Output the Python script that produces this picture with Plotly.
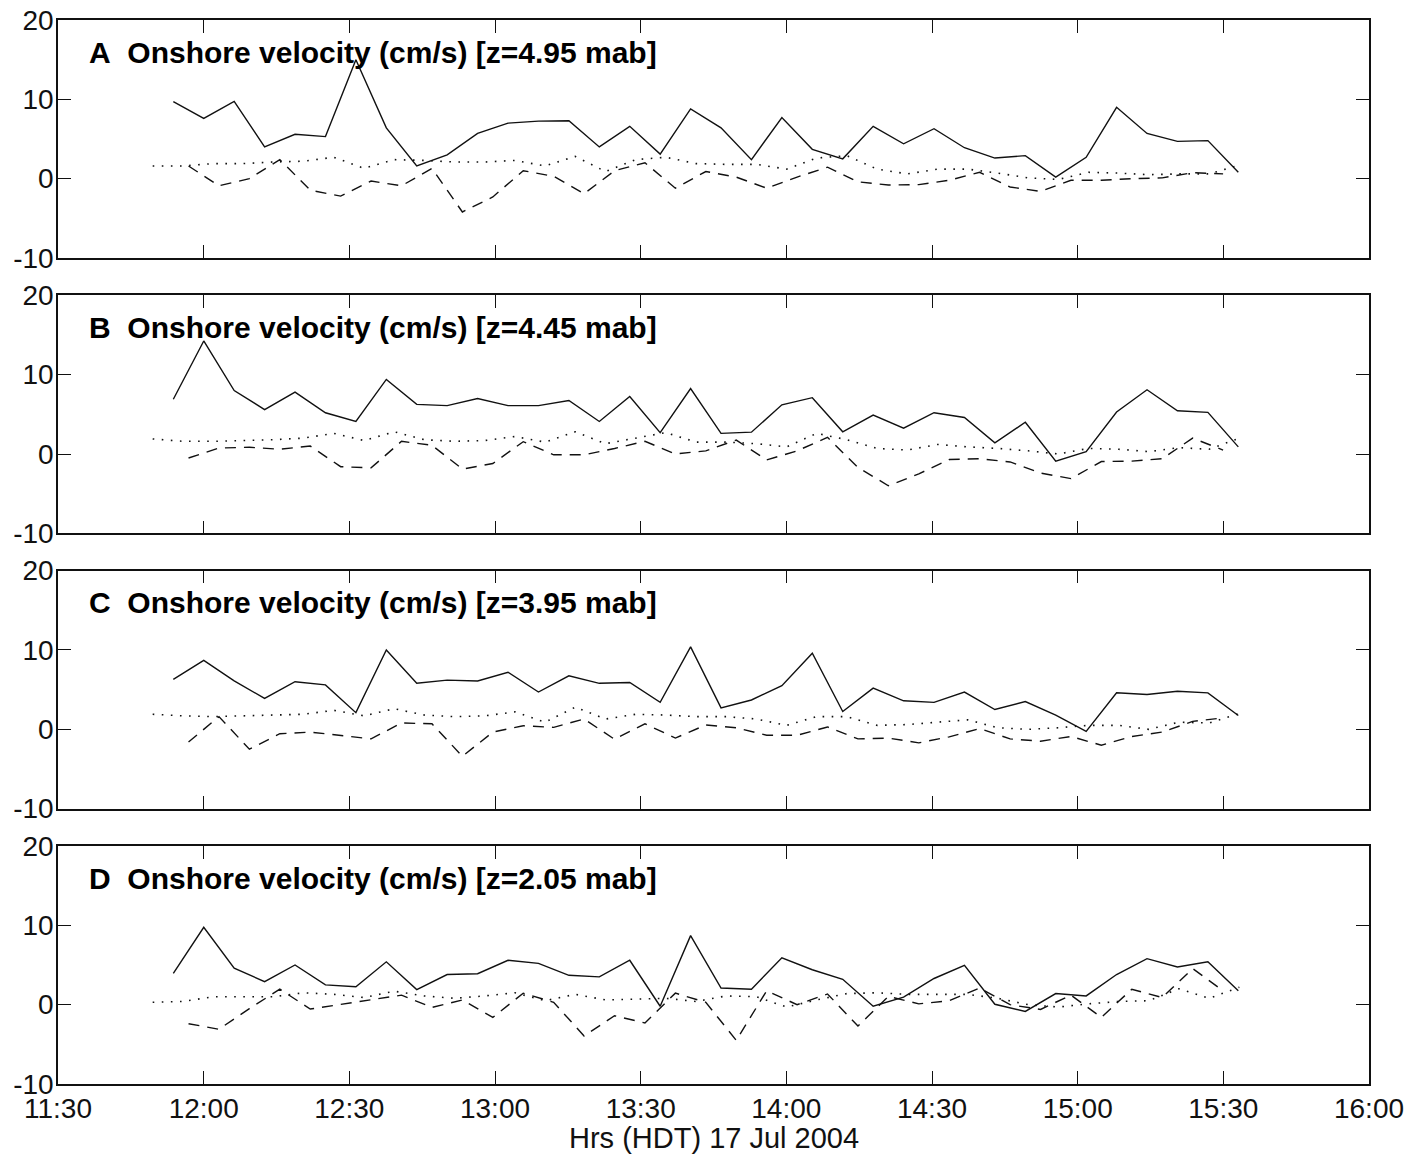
import pandas as pd
import plotly.graph_objects as go

# Sampling times (HDT, 17 Jul 2004)
solid_t = pd.date_range("2004-07-17 11:53:45", periods=36, freq="376s")
dashed_t = pd.date_range("2004-07-17 11:56:53", periods=35, freq="376s")
dotted_t = pd.date_range("2004-07-17 11:49:30", periods=37, freq="373s")

# Onshore velocity (cm/s), panel A: z = 4.95 mab
a_solid = [9.7, 7.6, 9.75, 4.0, 5.6, 5.3, 15.0, 6.4, 1.6, 3.0, 5.7, 7.0, 7.25, 7.3, 4.0, 6.6, 3.1, 8.8,
           6.4, 2.4, 7.7, 3.7, 2.5, 6.6, 4.4, 6.3, 3.9, 2.6, 2.9, 0.2, 2.7, 9.0, 5.7, 4.7, 4.8, 0.8]
a_dashed = [1.6, -0.9, 0.0, 2.4, -1.45, -2.2, -0.3, -0.9, 1.3, -4.2, -2.3, 1.0, 0.3, -1.9, 1.0, 2.0, -1.2, 0.9,
            0.2, -1.2, 0.2, 1.45, -0.4, -0.8, -0.75, -0.2, 0.8, -1.05, -1.6, -0.2, -0.2, 0.0, 0.1, 0.75, 0.6]
a_dotted = [1.6, 1.6, 1.9, 1.9, 2.1, 2.2, 2.7, 1.3, 2.4, 2.3, 2.1, 2.1, 2.3, 1.6, 2.8, 0.9, 2.4, 2.7, 1.9,
            1.8, 1.8, 1.2, 2.6, 2.9, 1.2, 0.6, 1.2, 1.2, 0.7, 0.1, -0.1, 0.8, 0.7, 0.5, 0.6, 0.6, 1.7]

# Panel B: z = 4.45 mab
b_solid = [6.9, 14.25, 8.0, 5.6, 7.8, 5.2, 4.1, 9.4, 6.25, 6.1, 7.0, 6.1, 6.1, 6.75, 4.1, 7.25, 2.7, 8.25,
           2.6, 2.75, 6.2, 7.1, 2.8, 4.9, 3.25, 5.2, 4.6, 1.4, 4.0, -0.9, 0.3, 5.3, 8.1, 5.45, 5.25, 0.9]
b_dashed = [-0.5, 0.75, 0.85, 0.6, 1.0, -1.6, -1.75, 1.6, 1.1, -1.9, -1.2, 1.55, -0.1, -0.1, 0.7, 1.6, 0.0, 0.4,
            1.75, -0.75, 0.4, 2.1, -1.7, -4.0, -2.5, -0.7, -0.6, -1.0, -2.4, -3.1, -0.95, -0.9, -0.6, 2.0, 0.5]
b_dotted = [1.9, 1.6, 1.6, 1.7, 1.8, 2.0, 2.6, 1.7, 2.8, 1.8, 1.6, 1.7, 2.2, 1.5, 2.8, 1.3, 2.0, 2.7, 1.5,
            1.5, 1.3, 0.9, 2.6, 1.8, 0.7, 0.5, 1.2, 0.9, 0.7, 0.4, 0.0, 0.7, 0.6, 0.3, 0.8, 0.6, 2.0]

# Panel C: z = 3.95 mab
c_solid = [6.3, 8.7, 6.1, 3.9, 6.0, 5.6, 2.1, 10.0, 5.8, 6.2, 6.1, 7.2, 4.7, 6.75, 5.8, 5.9, 3.4, 10.4,
           2.7, 3.7, 5.5, 9.6, 2.25, 5.2, 3.6, 3.4, 4.7, 2.5, 3.5, 1.8, -0.25, 4.6, 4.4, 4.8, 4.6, 1.75]
c_dashed = [-1.6, 1.6, -2.5, -0.55, -0.35, -0.75, -1.2, 0.8, 0.7, -3.4, -0.35, 0.45, 0.25, 1.3, -1.25, 0.7, -1.1, 0.55,
            0.2, -0.75, -0.75, 0.3, -1.2, -1.1, -1.7, -0.95, 0.1, -1.2, -1.5, -0.9, -2.0, -0.9, -0.35, 1.0, 1.45]
c_dotted = [1.9, 1.7, 1.6, 1.7, 1.8, 1.9, 2.4, 1.7, 2.6, 1.8, 1.6, 1.7, 2.2, 0.9, 2.8, 1.3, 1.9, 1.8, 1.6,
            1.6, 1.3, 0.5, 1.6, 1.6, 0.5, 0.6, 0.9, 1.2, 0.2, 0.0, 0.2, 0.5, 0.5, 0.0, 0.9, 0.8, 2.0]

# Panel D: z = 2.05 mab
d_solid = [3.95, 9.75, 4.6, 2.9, 5.0, 2.5, 2.25, 5.4, 1.9, 3.8, 3.9, 5.6, 5.2, 3.7, 3.5, 5.6, -0.2, 8.7,
           2.1, 1.95, 5.9, 4.4, 3.2, -0.2, 0.95, 3.3, 4.95, 0.05, -0.85, 1.4, 1.1, 3.8, 5.8, 4.75, 5.4, 1.75]
d_dashed = [-2.4, -3.1, -0.5, 1.95, -0.55, 0.05, 0.6, 1.2, -0.35, 0.6, -1.6, 1.45, 0.3, -3.95, -1.4, -2.3, 1.45, 0.3,
            -4.5, 1.75, 0.0, 1.35, -2.7, 1.05, 0.1, 0.5, 2.1, 0.0, -0.6, 1.2, -1.6, 1.95, 0.9, 4.55, 1.75]
d_dotted = [0.3, 0.4, 1.0, 1.0, 1.0, 1.5, 1.3, 0.9, 1.7, 1.1, 0.8, 1.1, 1.5, 0.5, 1.3, 0.6, 0.7, 0.8, 0.4,
            1.1, 1.0, -0.3, 0.6, 1.4, 1.5, 1.3, 1.3, 1.3, 0.8, 0.0, -0.3, 0.1, 0.4, 0.5, 2.0, 0.8, 2.2]

panel_letters = ["A", "B", "C", "D"]
panel_heights = ["4.95", "4.45", "3.95", "2.05"]
panel_data = [
    (a_solid, a_dashed, a_dotted),
    (b_solid, b_dashed, b_dotted),
    (c_solid, c_dashed, c_dotted),
    (d_solid, d_dashed, d_dotted),
]

x_ticks = pd.date_range("2004-07-17 11:30", "2004-07-17 16:00", freq="30min")
x_range = ["2004-07-17 11:30", "2004-07-17 16:00"]
y_ticks = [-10, 0, 10, 20]

FONT = "Liberation Sans, Arial, Helvetica, sans-serif"
INK = "#111111"

W, H = 1424, 1156
M_L, M_R, M_T, M_B = 58, 55, 20, 72
plot_h = H - M_T - M_B
panel_px = 238
gap_px = (plot_h - 4 * panel_px) / 3

fig = go.Figure()
layout = dict(
    width=W, height=H,
    margin=dict(l=M_L, r=M_R, t=M_T, b=M_B, pad=0, autoexpand=False),
    paper_bgcolor="white", plot_bgcolor="white",
    showlegend=False,
    font=dict(family=FONT, size=28, color=INK),
)
annotations = []

for i, (solid, dashed, dotted) in enumerate(panel_data):
    n = i + 1
    sfx = "" if n == 1 else str(n)
    xa, ya = "x" + sfx, "y" + sfx

    top_px = i * (panel_px + gap_px)
    dom_top = 1 - top_px / plot_h
    dom_bot = 1 - (top_px + panel_px) / plot_h

    fig.add_trace(go.Scatter(x=dotted_t, y=dotted, mode="lines", xaxis=xa, yaxis=ya,
                             line=dict(color=INK, width=1.6, dash="1.6px,7.5px")))
    fig.add_trace(go.Scatter(x=dashed_t, y=dashed, mode="lines", xaxis=xa, yaxis=ya,
                             line=dict(color=INK, width=1.4, dash="11px,8px")))
    fig.add_trace(go.Scatter(x=solid_t, y=solid, mode="lines", xaxis=xa, yaxis=ya,
                             line=dict(color=INK, width=1.4)))

    is_bottom = n == 4
    layout["xaxis" + sfx] = dict(
        domain=[0, 1], anchor=ya, type="date", range=x_range,
        tickvals=x_ticks, ticktext=[t.strftime("%H:%M") for t in x_ticks],
        ticks="inside", ticklen=13, tickwidth=1.3, tickcolor=INK,
        showline=True, linecolor=INK, linewidth=1.5, mirror="ticks",
        showgrid=False, zeroline=False, automargin=False,
        showticklabels=is_bottom, ticklabelstandoff=-1,
        tickfont=dict(family=FONT, size=28, color=INK),
    )
    layout["yaxis" + sfx] = dict(
        domain=[dom_bot, dom_top], anchor=xa, range=[-10, 20],
        tickvals=y_ticks, ticktext=[str(v) for v in y_ticks],
        ticks="inside", ticklen=13, tickwidth=1.3, tickcolor=INK,
        showline=True, linecolor=INK, linewidth=1.5, mirror="ticks",
        showgrid=False, zeroline=False, automargin=False, ticklabelstandoff=-3,
        tickfont=dict(family=FONT, size=28, color=INK),
    )

    annotations.append(dict(
        xref=xa + " domain", yref=ya + " domain",
        x=29 / (W - M_L - M_R), y=1 - 32 / panel_px,
        xanchor="left", yanchor="middle", showarrow=False,
        text=f"<b>{panel_letters[i]}\u00a0 Onshore velocity (cm/s) [z={panel_heights[i]} mab]</b>",
        font=dict(family=FONT, size=30, color="#000000"),
    ))

annotations.append(dict(
    xref="paper", yref="paper", x=0.5, y=-(1138 - (H - M_B)) / plot_h,
    xanchor="center", yanchor="middle", showarrow=False,
    text="Hrs (HDT) 17 Jul 2004",
    font=dict(family=FONT, size=29, color=INK),
))

layout["annotations"] = annotations
fig.update_layout(**layout)
fig.write_html("out.html")
